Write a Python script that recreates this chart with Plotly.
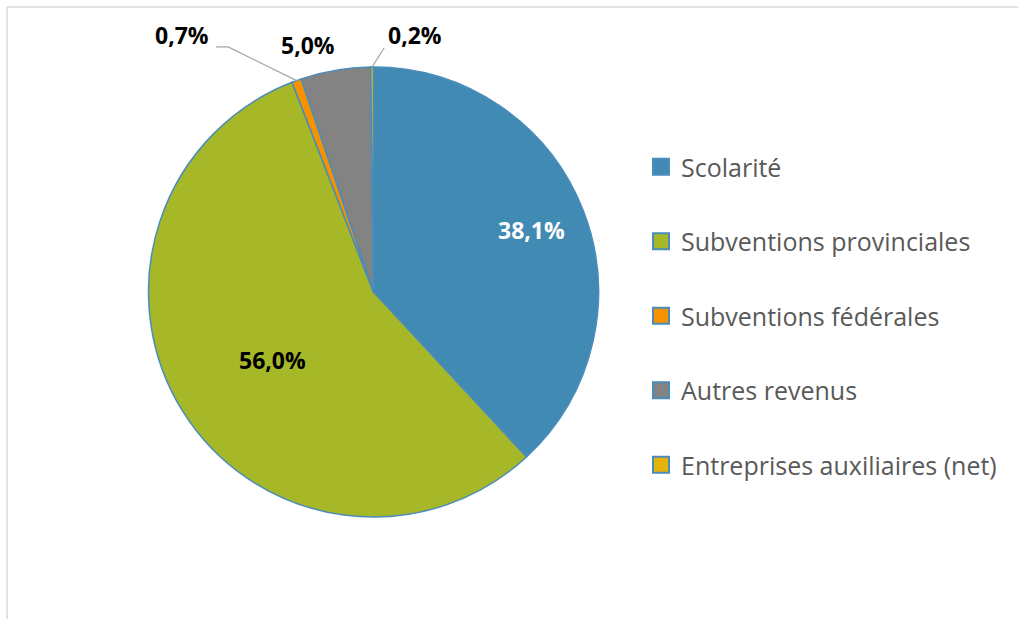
import math
import plotly.graph_objects as go

categories = ["Scolarité", "Subventions provinciales", "Subventions fédérales",
              "Autres revenus", "Entreprises auxiliaires (net)"]
values = [38.1, 56.0, 0.7, 5.0, 0.2]

colors = ["#418AB3", "#A6B727", "#F69200", "#838383", "#E5B40B"]
edge = "#4A8CBC"

W, H = 1018, 619
CX, CY, R = 373.5, 292.0, 225.0

# label styling; leader points are pixel offsets from the label centre
label_style = [
    {"mode": "in", "rf": 0.756, "color": "white"},
    {"mode": "in", "rf": 0.54, "color": "black", "dang": -2},
    {"mode": "out", "off": (-114.5, -45.6), "color": "black", "leader": [(46, 12), (34, 12)]},
    {"mode": "out", "off": (-27.6, -25.0), "color": "black"},
    {"mode": "out", "off": (43.0, -32.0), "color": "black", "leader": [(-31, 13)]},
]

def px(x):
    return x / W

def py(y):
    return 1 - y / H

fig = go.Figure()
fig.add_trace(go.Pie(
    labels=categories, values=values, sort=False, direction="clockwise", rotation=0,
    marker=dict(colors=colors, line=dict(color=edge, width=1.5)),
    textinfo="none", hoverinfo="label+percent", showlegend=False,
    domain=dict(x=[px(CX - R), px(CX + R)], y=[py(CY + R), py(CY - R)]),
))

for c, col in zip(categories, colors):
    fig.add_trace(go.Scatter(
        x=[None], y=[None], mode="markers", name=c, legendgroup=c,
        marker=dict(symbol="square", size=17, color=col, line=dict(color=edge, width=2)),
    ))

total = sum(values)
cum = 0.0
annotations = []
shapes = []
for v, st in zip(values, label_style):
    mid = (cum + v / 2) / total * 360.0
    cum += v
    text = f"{v:.1f}".replace(".", ",") + "%"
    if st["mode"] == "in":
        a = math.radians(mid + st.get("dang", 0))
        lx = CX + R * st["rf"] * math.sin(a)
        ly = CY - R * st["rf"] * math.cos(a)
    else:
        a = math.radians(mid)
        ax_ = CX + R * math.sin(a)
        ay_ = CY - R * math.cos(a)
        lx = ax_ + st["off"][0]
        ly = ay_ + st["off"][1]
        if "leader" in st:
            pts = [(ax_, ay_)] + [(lx + dx, ly + dy) for dx, dy in st["leader"]]
            path = "M " + " L ".join(f"{px(x)},{py(y)}" for x, y in pts)
            shapes.append(dict(type="path", xref="paper", yref="paper", path=path,
                               line=dict(color="#A6A6A6", width=1.3)))
    annotations.append(dict(
        x=px(lx), y=py(ly), xref="paper", yref="paper", text=f"<b>{text}</b>",
        showarrow=False, xanchor="center", yanchor="middle",
        font=dict(family="Open Sans", size=23, color=st["color"]),
    ))

# chart frame (partially visible)
shapes.append(dict(type="line", xref="paper", yref="paper", x0=px(7), x1=1.0, y0=py(7), y1=py(7),
                   line=dict(color="#D9D9D9", width=1.5)))
shapes.append(dict(type="line", xref="paper", yref="paper", x0=px(7), x1=px(7), y0=py(7), y1=0.0,
                   line=dict(color="#D9D9D9", width=1.5)))

fig.update_layout(
    width=W, height=H, margin=dict(l=0, r=0, t=0, b=0),
    paper_bgcolor="white", plot_bgcolor="white",
    xaxis=dict(visible=False), yaxis=dict(visible=False),
    showlegend=True,
    legend=dict(x=px(641), y=py(144), xanchor="left", yanchor="top",
                font=dict(family="Open Sans", size=25, color="#595959"),
                tracegroupgap=39, bgcolor="rgba(0,0,0,0)"),
    annotations=annotations, shapes=shapes,
)

fig.write_html("out.html", config={"displayModeBar": False},
               post_script="document.body.style.margin='0';document.body.style.overflow='hidden';")
